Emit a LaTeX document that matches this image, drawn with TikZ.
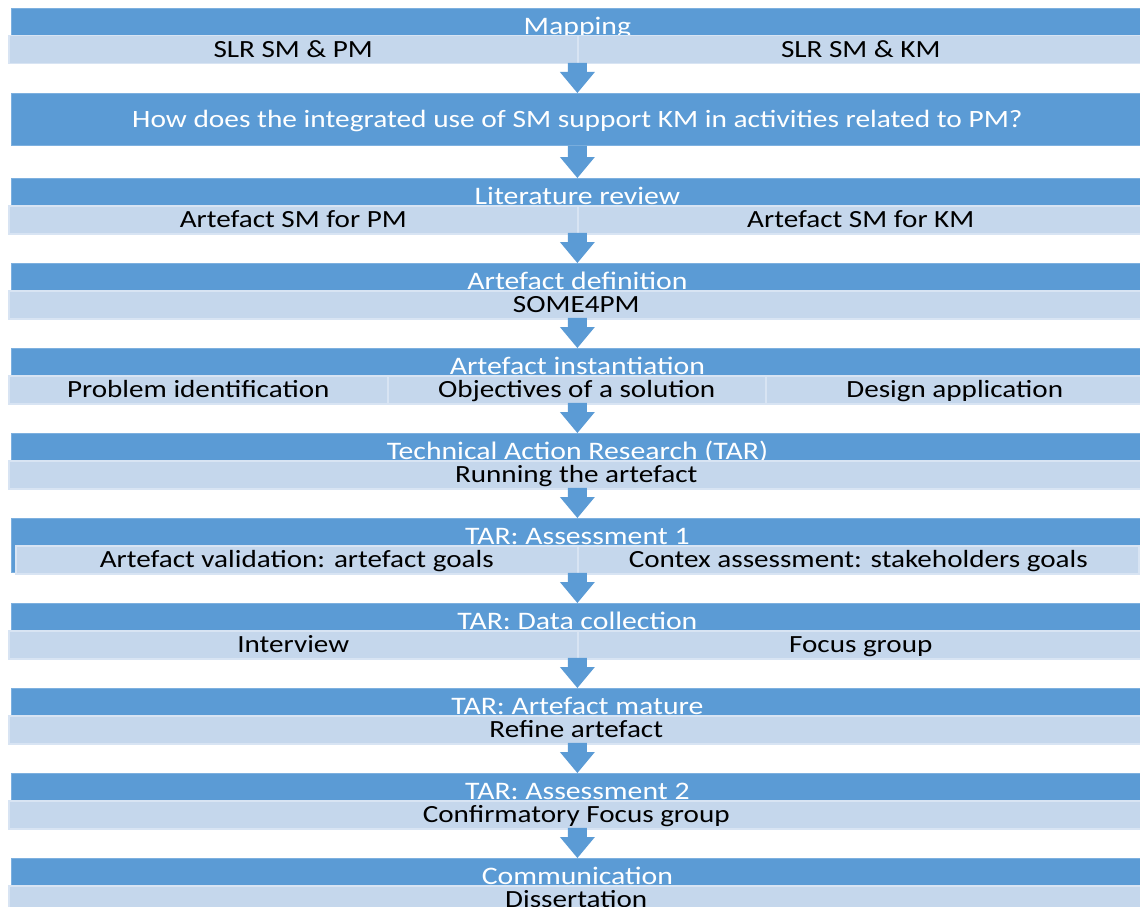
\documentclass[tikz,border=0pt]{standalone}
\usepackage{fontspec}
\setmainfont{Carlito}[FakeStretch=1.18]
\usetikzlibrary{calc}
\definecolor{bandblue}{HTML}{5B9BD5}
\definecolor{bandedge}{HTML}{7DB0DF}
\definecolor{barfill}{HTML}{C5D7EC}
\definecolor{baredge}{HTML}{D8E4F3}
\tikzset{
  stageband/.style={rectangle, anchor=north west, inner sep=0pt, fill=bandblue,
    draw=bandedge, line width=0.8pt, minimum width=1132pt, minimum height=54pt,
    text height=26.5pt, text depth=27.5pt, text=white, font=\fontsize{25.2}{30}\selectfont},
  questionband/.style={stageband, minimum height=52pt, text height=34pt,
    text depth=18pt, font=\fontsize{24.9}{30}\selectfont},
  subbar/.style={rectangle, anchor=north west, inner sep=0pt, fill=barfill,
    draw=baredge, line width=1.5pt, minimum height=28pt, text height=22pt,
    text depth=6pt, text=black, font=\fontsize{24.7}{29}\selectfont},
}
% block arrow pointing down from one stage to the next
\newcommand\stagearrow[2]{%
  \fill[bandblue] let \p1=(#1.south), \p2=(#2.north) in
    (\x1-9.5pt,\y1) -- (\x1+9.5pt,\y1) -- (\x1+9.5pt,\y2+21pt)
    -- (\x1+17.5pt,\y2+21pt) -- (\x1,\y2) -- (\x1-17.5pt,\y2+21pt)
    -- (\x1-9.5pt,\y2+21pt) -- cycle;}
\begin{document}
\begin{tikzpicture}[x=1pt,y=-1pt]
\useasboundingbox (0,0) rectangle (1140,907);
\clip (0,0) rectangle (1140,907);

\node[stageband] (s1) at (11,8) {Mapping};
\node[subbar, minimum width=569pt] (s1a) at (8,35) {SLR SM \& PM};
\node[subbar, minimum width=566pt] (s1b) at (577,35) {SLR SM \& KM};

\node[questionband] (s2) at (11,93) {How does the integrated use of SM support KM in activities related to PM?};

\node[stageband] (s3) at (11,178) {Literature review};
\node[subbar, minimum width=569pt] (s3a) at (8,205) {Artefact SM for PM};
\node[subbar, minimum width=566pt] (s3b) at (577,205) {Artefact SM for KM};

\node[stageband] (s4) at (11,263) {Artefact definition};
\node[subbar, minimum width=1135pt] (s4a) at (8,290) {SOME4PM};

\node[stageband] (s5) at (11,348) {Artefact instantiation};
\node[subbar, minimum width=379pt] (s5a) at (8,375) {Problem identification};
\node[subbar, minimum width=378pt] (s5b) at (387,375) {Objectives of a solution};
\node[subbar, minimum width=378pt] (s5c) at (765,375) {Design application};

\node[stageband] (s6) at (11,433) {Technical Action Research (TAR)};
\node[subbar, minimum width=1135pt] (s6a) at (8,460) {Running the artefact};

\node[stageband] (s7) at (11,518) {TAR: Assessment 1};
\node[subbar, minimum width=562pt] (s7a) at (15,545) {Artefact validation: artefact goals};
\node[subbar, minimum width=561pt] (s7b) at (577,545) {Contex assessment: stakeholders goals};

\node[stageband] (s8) at (11,603) {TAR: Data collection};
\node[subbar, minimum width=569pt] (s8a) at (8,630) {Interview};
\node[subbar, minimum width=566pt] (s8b) at (577,630) {Focus group};

\node[stageband] (s9) at (11,688) {TAR: Artefact mature};
\node[subbar, minimum width=1135pt] (s9a) at (8,715) {Refine artefact};

\node[stageband] (s10) at (11,773) {TAR: Assessment 2};
\node[subbar, minimum width=1135pt] (s10a) at (8,800) {Confirmatory Focus group};

\node[stageband] (s11) at (11,858) {Communication};
\node[subbar, minimum width=1135pt] (s11a) at (8,885) {Dissertation};

\stagearrow{s1}{s2}
\stagearrow{s2}{s3}
\stagearrow{s3}{s4}
\stagearrow{s4}{s5}
\stagearrow{s5}{s6}
\stagearrow{s6}{s7}
\stagearrow{s7}{s8}
\stagearrow{s8}{s9}
\stagearrow{s9}{s10}
\stagearrow{s10}{s11}
\end{tikzpicture}
\end{document}
